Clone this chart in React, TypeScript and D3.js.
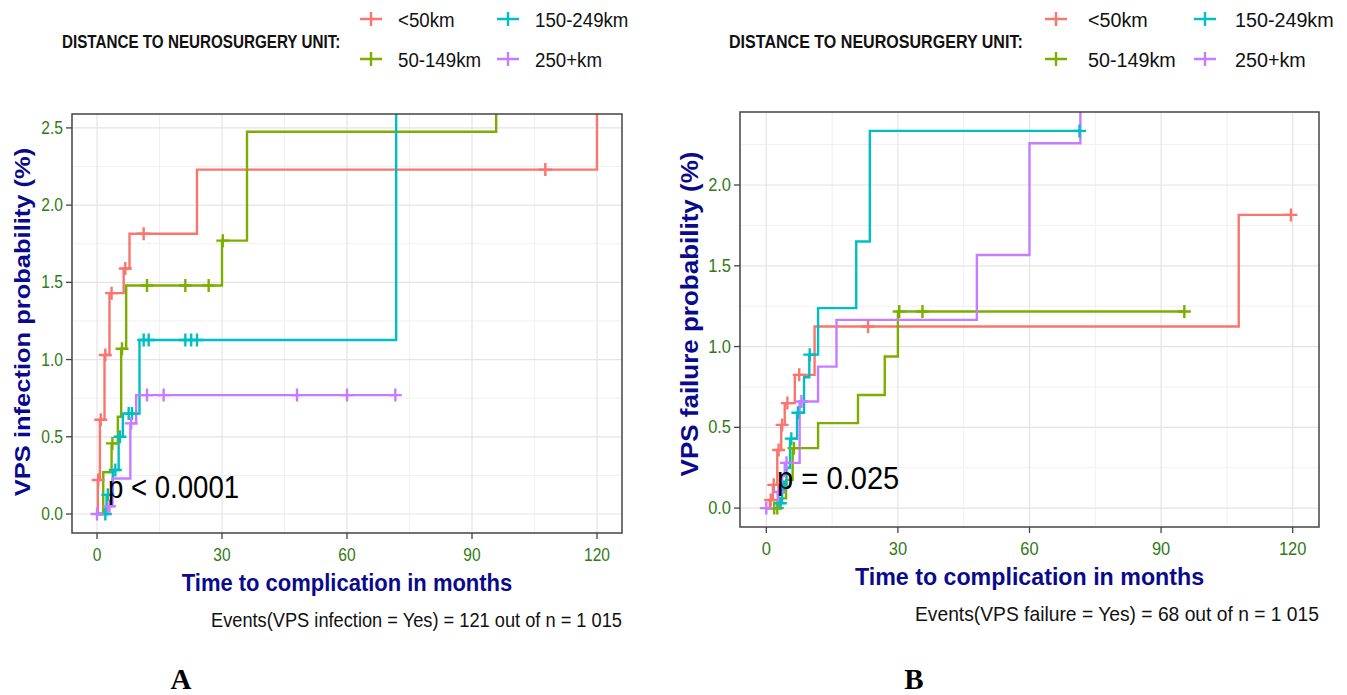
import React from "react";
import * as d3 from "d3";

type Pt = [number, number];

// Group labels and ggplot-style hue colours
const groups = ["<50km", "50-149km", "150-249km", "250+km"];
const groupColors = ["#F8766D", "#7CAE00", "#00BFC4", "#C77CFF"];

// Panel A: cumulative VPS infection probability (%), steps as [month, value]
const infLt50: Pt[] = [[0, 0], [0.2, 0.22], [0.7, 0.61], [1.8, 1.03], [3.0, 1.43], [6.4, 1.59], [7.8, 1.815], [24, 2.23], [120, 3.2]];
const infLt50Cens: Pt[] = [[0.3, 0.22], [0.9, 0.61], [2.0, 1.03], [3.5, 1.43], [6.8, 1.59], [11.2, 1.815], [107.6, 2.23]];
const inf50: Pt[] = [[0, 0], [1.5, 0.27], [3.5, 0.457], [5.0, 0.63], [5.8, 1.07], [7.0, 1.48], [30, 1.77], [36, 2.475], [95.8, 3.2]];
const inf50Cens: Pt[] = [[3.7, 0.457], [6.0, 1.07], [12, 1.48], [21.2, 1.48], [26.8, 1.48], [30.2, 1.77]];
const inf150: Pt[] = [[0, 0], [2.3, 0.124], [3.8, 0.285], [5.2, 0.5], [6.2, 0.65], [10.2, 1.127], [71.8, 3.2]];
const inf150Cens: Pt[] = [[2.0, 0], [2.6, 0.124], [4.4, 0.285], [5.5, 0.5], [7.6, 0.65], [8.4, 0.65], [11.2, 1.127], [12.4, 1.127], [21.2, 1.127], [22.6, 1.127], [24, 1.127]];
const inf250: Pt[] = [[0, 0], [2.5, 0.05], [3.7, 0.23], [8.0, 0.587], [9.4, 0.77]];
const inf250Cens: Pt[] = [[0, 0], [3.0, 0.05], [8.2, 0.587], [12, 0.77], [16, 0.77], [48, 0.77], [60, 0.77], [71.6, 0.77]];
const infEnds = [120, 95.8, 71.8, 71.6];

// Panel B: cumulative VPS failure probability (%)
const failLt50: Pt[] = [[0, 0], [0.8, 0.05], [1.5, 0.144], [2.5, 0.36], [3.4, 0.515], [4.2, 0.65], [6.5, 0.825], [11.0, 1.124], [107.7, 1.815]];
const failLt50Cens: Pt[] = [[1.0, 0.05], [1.7, 0.144], [2.8, 0.36], [3.6, 0.515], [4.8, 0.65], [7.5, 0.825], [23.2, 1.124], [119.6, 1.815]];
const fail50: Pt[] = [[0, 0], [3.2, 0.06], [4.5, 0.175], [6.0, 0.371], [11.8, 0.526], [20.9, 0.7], [27.0, 0.938], [30.0, 1.217]];
const fail50Cens: Pt[] = [[1.8, 0], [2.5, 0], [6.3, 0.371], [30.3, 1.217], [35.6, 1.217], [95.3, 1.217]];
const fail150: Pt[] = [[0, 0], [3.0, 0.03], [3.6, 0.13], [4.6, 0.25], [5.4, 0.43], [7.0, 0.59], [8.6, 0.81], [9.8, 0.95], [11.8, 1.238], [20.5, 1.65], [23.6, 2.335]];
const fail150Cens: Pt[] = [[3.2, 0.03], [4.0, 0.13], [5.7, 0.43], [7.2, 0.59], [9.9, 0.95], [71.4, 2.335]];
const fail250: Pt[] = [[0, 0], [2.6, 0.1], [3.6, 0.2], [4.2, 0.28], [7.6, 0.66], [11.8, 0.876], [16, 1.165], [48, 1.567], [60, 2.259], [71.6, 3.0]];
const fail250Cens: Pt[] = [[0, 0], [2.8, 0.1], [4.6, 0.28], [8.0, 0.66]];
const failEnds = [119.6, 95.3, 71.4, 71.6];

const xTicks = [0, 30, 60, 90, 120];
const xMinor = [15, 45, 75, 105];
const infYTicks = [0, 0.5, 1.0, 1.5, 2.0, 2.5];
const failYTicks = [0, 0.5, 1.0, 1.5, 2.0];
const yMinor = [0.25, 0.75, 1.25, 1.75, 2.25];

const SANS = "'Liberation Sans', Arial, sans-serif";
const TITLE_BLUE = "#0a0a8c";
const TICK_GREEN = "#2f7a14";

type Series = { steps: Pt[]; cens: Pt[]; end: number };

type PanelProps = {
  id: string;
  left: number; right: number; top: number; bottom: number;
  yMax: number; yMin: number;
  yTicks: number[];
  series: Series[];
  sx: number;
  yTitle: string;
  yTitleX: number;
  yTitleY: number;
  yTitleSize: number;
  events: string;
  pText: string;
  pX: number; pY: number;
  legendTitleX: number;
  keyX: [number, number];
  labelX: [number, number];
  tag: string; tagX: number;
};

function SqText(props: {
  x: number; y: number; sx: number; size: number; anchor?: string; weight?: string;
  fill?: string; rotate?: number; children: React.ReactNode; family?: string;
}) {
  const { x, y, sx, size, anchor = "start", weight = "normal", fill = "#000", rotate = 0, family = SANS } = props;
  return (
    <text
      transform={`translate(${x},${y}) scale(${sx},1)${rotate ? ` rotate(${rotate})` : ""}`}
      textAnchor={anchor}
      fontFamily={family}
      fontSize={size}
      fontWeight={weight}
      fill={fill}
    >
      {props.children}
    </text>
  );
}

function Panel(p: PanelProps) {
  const x = d3.scaleLinear().domain([-6, 126]).range([p.left, p.right]);
  const y = d3.scaleLinear().domain([p.yMin, p.yMax]).range([p.bottom, p.top]);
  const line = d3.line<Pt>().x(d => x(d[0])).y(d => y(d[1])).curve(d3.curveStepAfter);
  const minorY = yMinor.filter(v => v < p.yMax);
  const cx = (p.left + p.right) / 2;
  const arm = 6.5;
  const legendRows = [19, 59];
  return (
    <g>
      <defs>
        <clipPath id={`clip-${p.id}`}>
          <rect x={p.left} y={p.top} width={p.right - p.left} height={p.bottom - p.top} />
        </clipPath>
      </defs>
      <rect x={p.left} y={p.top} width={p.right - p.left} height={p.bottom - p.top} fill="#fff" />
      {xMinor.map(v => (
        <line key={`xm${v}`} x1={x(v)} x2={x(v)} y1={p.top} y2={p.bottom} stroke="#f0f0f0" strokeWidth={1} />
      ))}
      {minorY.map(v => (
        <line key={`ym${v}`} x1={p.left} x2={p.right} y1={y(v)} y2={y(v)} stroke="#f0f0f0" strokeWidth={1} />
      ))}
      {xTicks.map(v => (
        <line key={`xg${v}`} x1={x(v)} x2={x(v)} y1={p.top} y2={p.bottom} stroke="#e4e4e4" strokeWidth={1.2} />
      ))}
      {p.yTicks.map(v => (
        <line key={`yg${v}`} x1={p.left} x2={p.right} y1={y(v)} y2={y(v)} stroke="#e4e4e4" strokeWidth={1.2} />
      ))}
      <g clipPath={`url(#clip-${p.id})`}>
        {p.series.map((s, i) => {
          const last = s.steps[s.steps.length - 1];
          const pts: Pt[] = last[0] < s.end ? [...s.steps, [s.end, last[1]]] : s.steps;
          return (
            <path key={`l${i}`} d={line(pts) || ""} fill="none" stroke={groupColors[i]} strokeWidth={2.4} />
          );
        })}
        {p.series.map((s, i) =>
          s.cens.map((c, j) => (
            <path
              key={`c${i}-${j}`}
              d={`M${x(c[0]) - arm},${y(c[1])}H${x(c[0]) + arm}M${x(c[0])},${y(c[1]) - arm}V${y(c[1]) + arm}`}
              stroke={groupColors[i]}
              strokeWidth={2.4}
              fill="none"
            />
          ))
        )}
      </g>
      <rect x={p.left} y={p.top} width={p.right - p.left} height={p.bottom - p.top} fill="none" stroke="#444" strokeWidth={1.5} />
      {xTicks.map(v => (
        <g key={`xt${v}`}>
          <line x1={x(v)} x2={x(v)} y1={p.bottom} y2={p.bottom + 6} stroke="#444" strokeWidth={1.3} />
          <SqText x={x(v)} y={p.bottom + 28} sx={p.sx} size={17.5} anchor="middle" fill={TICK_GREEN}>{v}</SqText>
        </g>
      ))}
      {p.yTicks.map(v => (
        <g key={`yt${v}`}>
          <line x1={p.left - 6} x2={p.left} y1={y(v)} y2={y(v)} stroke="#444" strokeWidth={1.3} />
          <SqText x={p.left - 9} y={y(v) + 6} sx={p.sx} size={17.5} anchor="end" fill={TICK_GREEN}>{v.toFixed(1)}</SqText>
        </g>
      ))}
      <SqText x={cx} y={p.bottom + 58} sx={p.sx} size={24.7} anchor="middle" weight="bold" fill={TITLE_BLUE}>
        Time to complication in months
      </SqText>
      <SqText x={p.yTitleX} y={p.yTitleY} sx={p.sx} size={p.yTitleSize} anchor="middle" weight="bold" fill={TITLE_BLUE} rotate={-90}>
        {p.yTitle}
      </SqText>
      <SqText x={p.right} y={p.bottom + 94} sx={p.sx} size={20.5} anchor="end" fill="#111">
        {p.events}
      </SqText>
      <SqText x={p.pX} y={p.pY} sx={p.sx} size={31} fill="#000">{p.pText}</SqText>
      <SqText x={p.legendTitleX} y={47.5} sx={p.sx * 0.9} size={19} weight="bold" fill="#111">
        DISTANCE TO NEUROSURGERY UNIT:
      </SqText>
      {groups.map((g, i) => {
        const col = i === 0 || i === 1 ? 0 : 1;
        const row = i === 0 || i === 2 ? 0 : 1;
        const kx = p.keyX[col];
        const ky = legendRows[row];
        return (
          <g key={`lg${i}`}>
            <path d={`M${kx - 11},${ky}H${kx + 11}M${kx},${ky - 7}V${ky + 7}`} stroke={groupColors[i]} strokeWidth={2.4} fill="none" />
            <SqText x={p.labelX[col]} y={ky + 7.5} sx={p.sx} size={21} fill="#111">{g}</SqText>
          </g>
        );
      })}
      <text x={p.tagX} y={689} textAnchor="middle" fontFamily="'Liberation Serif', 'Times New Roman', serif" fontWeight="bold" fontSize={29} fill="#000">
        {p.tag}
      </text>
    </g>
  );
}

export default function App() {
  const infSeries: Series[] = [
    { steps: infLt50, cens: infLt50Cens, end: infEnds[0] },
    { steps: inf50, cens: inf50Cens, end: infEnds[1] },
    { steps: inf150, cens: inf150Cens, end: infEnds[2] },
    { steps: inf250, cens: inf250Cens, end: infEnds[3] },
  ];
  const failSeries: Series[] = [
    { steps: failLt50, cens: failLt50Cens, end: failEnds[0] },
    { steps: fail50, cens: fail50Cens, end: failEnds[1] },
    { steps: fail150, cens: fail150Cens, end: failEnds[2] },
    { steps: fail250, cens: fail250Cens, end: failEnds[3] },
  ];
  return (
    <svg width={1347} height={695} style={{ position: "absolute", left: 0, top: 0, background: "#fff" }}>
      <rect width={1347} height={695} fill="#fff" />
      <Panel
        id="a" left={72} right={622} top={114} bottom={533}
        yMin={-0.123} yMax={2.59} yTicks={infYTicks} series={infSeries} sx={0.89}
        yTitle="VPS infection probability (%)" yTitleX={30} yTitleY={322} yTitleSize={25.5}
        events="Events(VPS infection = Yes) = 121 out of n = 1 015"
        pText="p < 0.0001" pX={108} pY={498}
        legendTitleX={62} keyX={[371, 508]} labelX={[398, 535]}
        tag="A" tagX={181}
      />
      <Panel
        id="b" left={740} right={1319} top={112} bottom={527}
        yMin={-0.117} yMax={2.452} yTicks={failYTicks} series={failSeries} sx={0.94}
        yTitle="VPS failure probability (%)" yTitleX={698} yTitleY={314} yTitleSize={26}
        events="Events(VPS failure = Yes) = 68 out of n = 1 015"
        pText="p = 0.025" pX={777} pY={489}
        legendTitleX={729} keyX={[1056, 1205]} labelX={[1088, 1235]}
        tag="B" tagX={914}
      />
    </svg>
  );
}
